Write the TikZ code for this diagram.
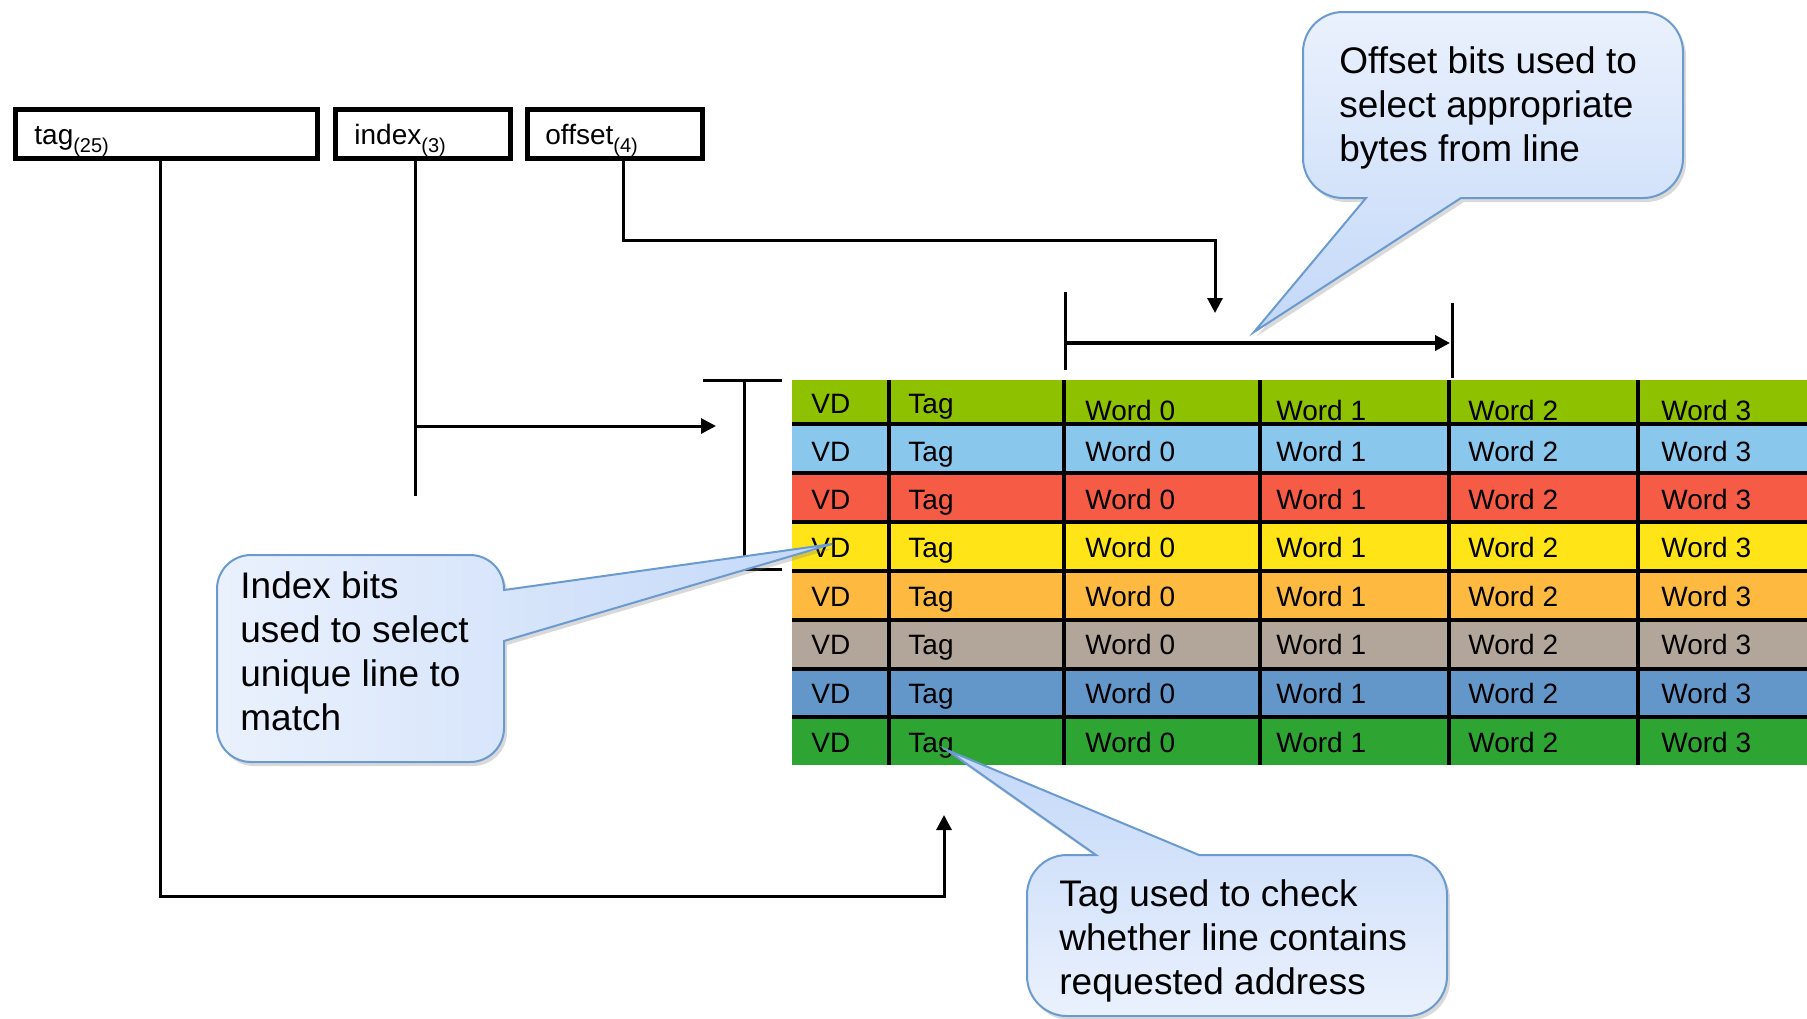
\documentclass[tikz,border=0pt]{standalone}
\usepackage{fontspec}
\setmainfont{Liberation Sans}
\usetikzlibrary{arrows.meta}
\usetikzlibrary{shadows}
\definecolor{rowa}{HTML}{8EC100}
\definecolor{rowb}{HTML}{8AC7EC}
\definecolor{rowc}{HTML}{F55B45}
\definecolor{rowd}{HTML}{FFE517}
\definecolor{rowe}{HTML}{FDB940}
\definecolor{rowf}{HTML}{B2A59A}
\definecolor{rowg}{HTML}{6497C9}
\definecolor{rowh}{HTML}{2EA532}
\definecolor{callline}{HTML}{6A9AD0}
\definecolor{calllight}{HTML}{EAF1FD}
\definecolor{calldark}{HTML}{C3D8F8}

\begin{document}
\begin{tikzpicture}[x=0.5pt,y=-0.5pt,
    field/.style={draw, line width=2.5pt, minimum height=24.5pt, inner sep=0},
    conn/.style={line width=1.5pt},
    tip/.style={-{Triangle[length=7.5pt,width=7.5pt]}},
    cell/.style={anchor=base west, inner sep=0, font=\fontsize{14}{16}\selectfont},
    bubble/.style={draw=callline, line width=1pt, drop shadow={shadow xshift=1.5pt, shadow yshift=-2pt, opacity=.3}},
    bubtext/.style={anchor=north west, inner sep=0, align=left, font=\fontsize{18.5}{22}\selectfont}]
      \def\subsize{\fontsize{10}{11}\selectfont}
      \useasboundingbox (0,0) rectangle (1807,1018);

      \node[field, minimum width=151pt] (tagf) at (166.5,134) {};
      \node[field, minimum width=87.5pt] (idxf) at (423,134) {};
      \node[field, minimum width=87.5pt] (offf) at (615,134) {};
      \node[cell] (tagl) at (34,144) {tag\raisebox{-4pt}{\subsize(25)}};
      \node[cell] (idxl) at (354,144) {index\raisebox{-4pt}{\subsize(3)}};
      \node[cell] (offl) at (545,144) {offset\raisebox{-4pt}{\subsize(4)}};

      \foreach \c/\ya/\yb/\yt/\yw in {rowa/380/424/413/420, rowb/424/473/461/461, rowc/473/522/509/509,
          rowd/522/571/557/557, rowe/571/620/606/606, rowf/620/669/654/654, rowg/669/717/703/703, rowh/717/765/752/752} {
        \fill[\c] (792,\ya) rectangle (1807,\yb);
        \node[cell] (vd\c) at (811,\yt) {VD};
        \node[cell] (tg\c) at (908,\yt) {Tag};
        \foreach \x [count=\j from 0] in {1085,1276,1468,1661}
          \node[cell] (w\c\j) at (\x,\yw) {Word \j};
      }
      \foreach \y in {424,473,522,571,620,669,717}
        \draw[line width=1.7pt] (792,\y) -- (1807,\y);
      \foreach \x in {889,1064,1260,1449,1638}
        \draw[line width=1.7pt] (\x,380) -- (\x,765);

      \draw[conn] (1065,292) -- (1065,370);
      \draw[conn] (1452,303) -- (1452,378);
      \draw[line width=2pt, tip] (1067,343) -- (1450,343);
      \draw[conn] (703,380) -- (782,380) (744,380) -- (744,569) (740,569) -- (782,569);

      \coordinate (tagin) at (944,815);
      \coordinate (idxin) at (716,426);
      \coordinate (offin) at (1215,313);
      \coordinate (idxa) at ([xshift=-4pt]idxf.south);
      \draw[conn, tip] ([xshift=-3.25pt]tagf.south) -- ++(0,735) -| (tagin);
      \draw[conn] (idxa) -- ++(0,335);
      \draw[conn, tip] (idxa |- idxin) -- (idxin);
      \draw[conn, tip] ([xshift=4pt]offf.south) -- ++(0,79) -| (offin);

      \draw[bubble, top color=calllight, bottom color=calldark] (1461,198) [rounded corners=20pt] -- (1683,198) -- (1683,12)
        -- (1303,12) -- (1303,198) [sharp corners] -- (1366,198) -- (1254,332) -- cycle;
      \node[bubtext] (offt) at (1339,46) {Offset bits used to\\select appropriate\\bytes from line};

      \draw[bubble, left color=calllight, right color=calldark] (504,641) [rounded corners=17pt] -- (504,762) -- (217,762)
        -- (217,555) -- (504,555) [sharp corners] -- (504,590) -- (832,544) -- cycle;
      \node[bubtext] (idxt) at (240,571) {Index bits\\used to select\\unique line to\\match};

      \draw[bubble, top color=calldark, bottom color=calllight] (1199,855) [rounded corners=20pt] -- (1447,855) -- (1447,1016)
        -- (1027,1016) -- (1027,855) [sharp corners] -- (1096,855) -- (947,750) -- cycle;
      \node[bubtext] (tagt) at (1059,879) {Tag used to check\\whether line contains\\requested address};

    \end{tikzpicture}
\end{document}
